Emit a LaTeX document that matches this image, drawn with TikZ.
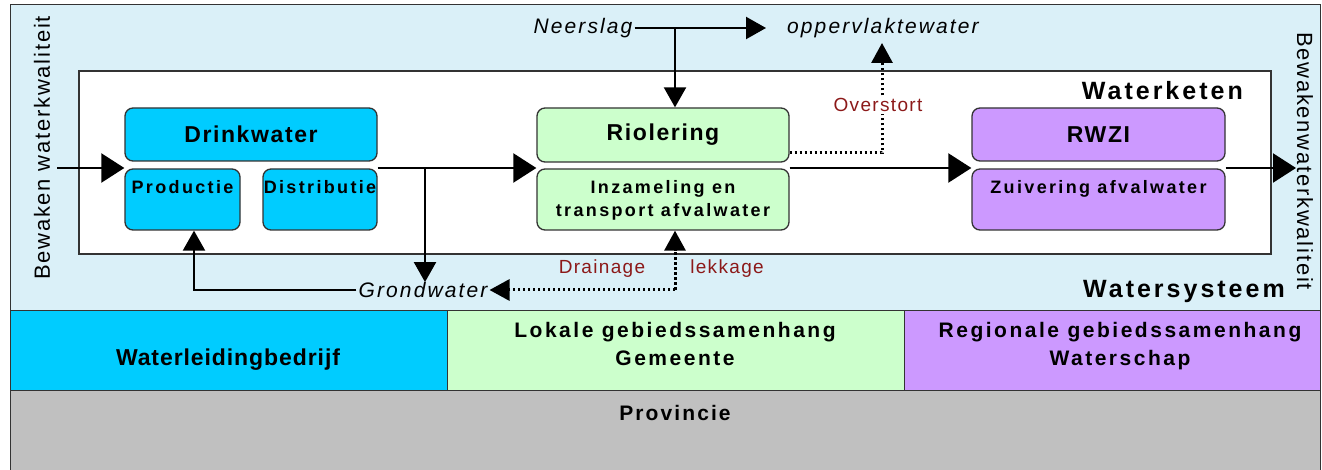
\documentclass[tikz,border=0pt]{standalone}
\usepackage{fontspec}
\setmainfont{Liberation Sans}
\newfontfamily\fsa{Liberation Sans}[LetterSpace=7]
\newfontfamily\fsb{Liberation Sans}[LetterSpace=10]
\newfontfamily\fsc{Liberation Sans}[LetterSpace=12]
\newfontfamily\fsd{Liberation Sans}[LetterSpace=8]
\newfontfamily\fse{Liberation Sans}[LetterSpace=13]
\newfontfamily\fsf{Liberation Sans}[LetterSpace=4]
\usetikzlibrary{arrows.meta}
\definecolor{dwblue}{RGB}{0,204,255}
\definecolor{riogreen}{RGB}{204,255,204}
\definecolor{rwzipurple}{RGB}{204,153,255}
\definecolor{provgray}{RGB}{192,192,192}
\definecolor{sysblue}{RGB}{218,240,248}
\definecolor{labelred}{RGB}{140,25,25}
\tikzset{
  box/.style={draw=black!80, line width=1.3pt, rounded corners=8pt},
  panel/.style={draw=black!80, line width=1pt},
  flow/.style={line width=2.2pt, -{Triangle[length=23pt,width=29pt]}},
  flowb/.style={line width=2.2pt, -{Triangle[length=20pt,width=22pt]}},
  dots/.style={line width=3pt, dash pattern=on 2.5pt off 2.5pt, -{Triangle[length=20pt,width=21pt]}},
  title/.style={font=\fsa\bfseries\fontsize{23}{26}\selectfont, inner sep=0pt},
  sub/.style={font=\fse\bfseries\fontsize{18}{23}\selectfont, inner sep=0pt, align=center},
  ital/.style={font=\fsb\itshape\fontsize{21}{24}\selectfont, inner sep=2pt},
  redlab/.style={font=\fsa\fontsize{19}{22}\selectfont, text=labelred, inner sep=2pt},
  pantext/.style={font=\fsc\bfseries\fontsize{21}{28}\selectfont, inner sep=0pt, align=center},
  bigtitle/.style={font=\fsc\bfseries\fontsize{25}{28}\selectfont, inner sep=0pt, anchor=base east},
  sidetext/.style={font=\fsd\fontsize{22}{24}\selectfont, inner sep=0pt},
}
\begin{document}
\begin{tikzpicture}[x=1pt,y=-1pt]
\useasboundingbox (0,0) rectangle (1322,470);
% background regions
\fill[white] (0,0) rectangle (1322,470);
\draw[panel, fill=sysblue] (10,5) rectangle (1320,310);
\draw[panel, fill=dwblue] (10,310) rectangle (447,390);
\draw[panel, fill=riogreen] (447,310) rectangle (904,390);
\draw[panel, fill=rwzipurple] (904,310) rectangle (1320,390);
\draw[panel, fill=provgray] (10,390) rectangle (1320,475);
% waterketen box
\draw[line width=1.3pt, draw=black!80, fill=white] (79,71) rectangle (1271,254);

% boxes
\node[box, fill=dwblue, minimum width=252pt, minimum height=53pt] (drink) at (251,134.5) {};
\node[title] (drinkt) at (drink.center) {Drinkwater};
\node[box, fill=dwblue, minimum width=115pt, minimum height=61pt] (prod) at (182.5,199.5) {};
\node[sub, anchor=base] (prodt) at (182.5,194) {Productie};
\node[box, fill=dwblue, minimum width=114pt, minimum height=61pt] (dist) at (320,199.5) {};
\node[sub, anchor=base] (distt) at (320,194) {Distributie};

\node[box, fill=riogreen, minimum width=252pt, minimum height=54pt] (rio) at (663,135) {};
\node[title] (riot) at (rio.center) {Riolering};
\node[box, fill=riogreen, minimum width=252pt, minimum height=61pt] (inz) at (663,199.5) {};
\node[sub] (inzt) at (663,200) {Inzameling en\\transport afvalwater};

\node[box, fill=rwzipurple, minimum width=253pt, minimum height=53pt] (rwzi) at (1098.5,134.5) {};
\node[title] (rwzit) at (rwzi.center) {RWZI};
\node[box, fill=rwzipurple, minimum width=253pt, minimum height=61pt] (zuiv) at (1098.5,199.5) {};
\node[sub, anchor=base] (zuivt) at (1098.5,194) {Zuivering afvalwater};

% labels
\node[bigtitle] (keten) at (1243,100) {Waterketen};
\node[bigtitle] (systeem) at (1285,298) {Watersysteem};
\node[ital] (neer) at (583,28) {Neerslag};
\node[ital, anchor=west] (opp) at (785,28) {oppervlaktewater};
\node[ital] (grond) at (423,290) {Grondwater};
\node[sidetext, rotate=90] (bewl) at (42,148) {Bewaken waterkwaliteit};
\node[sidetext, rotate=-90] (bewr) at (1305,161) {Bewakenwaterkwaliteit};

% bottom panel texts
\node[pantext, font=\fsf\bfseries\fontsize{23}{28}\selectfont, anchor=base] (wlb) at (228,365) {Waterleidingbedrijf};
\node[pantext, anchor=base] (lok1) at (675,337) {Lokale gebiedssamenhang};
\node[pantext, anchor=base] (lok2) at (675,365) {Gemeente};
\node[pantext, anchor=base] (reg1) at (1120,337) {Regionale gebiedssamenhang};
\node[pantext, anchor=base] (reg2) at (1120,365) {Waterschap};
\node[pantext, font=\fsb\bfseries\fontsize{21}{28}\selectfont, anchor=base] (prov) at (675,420) {Provincie};

% coordinates
\coordinate (inL) at (57,168);
\coordinate (outR) at (1296,168);
\coordinate (br) at (425,168);
\coordinate (oppin) at (766,28);
\coordinate (nsplit) at (675,28);
\coordinate (ovc) at (882,153);
\coordinate (ovtip) at (882,43);
\coordinate (drc) at (675,290);
\coordinate (gc) at (194,290);

% main flow
\draw[flow] (inL) -- (inL -| prod.west);
\draw[line width=2.2pt] (dist.east |- br) -- (br);
\draw[flow] (br) -- (br -| inz.west);
\draw[flowb] (br) -- ([yshift=-2pt]br |- grond.north);
\draw[flow] (inz.east |- br) -- (br -| zuiv.west);
\draw[flow] (zuiv.east |- outR) -- (outR);

% neerslag
\draw[flowb] (neer.east) -- (oppin);
\draw[flowb] (nsplit) -- (nsplit |- rio.north);

% overstort
\draw[dots] (ovc -| rio.east) -- (ovc) -- (ovtip);
\node[redlab, fill=white] (over) at (878,105) {Overstort};

% drainage / lekkage
\draw[dots] (drc) -- (drc |- inz.south);
\draw[dots] (drc) -- (grond.east);
\node[redlab] (drain) at (602,269) {Drainage};
\node[redlab] (lek) at (727,269) {lekkage};

% grondwater -> productie
\draw[flowb] (grond.west) -- (gc) -- (gc |- prod.south);
\end{tikzpicture}
\end{document}
